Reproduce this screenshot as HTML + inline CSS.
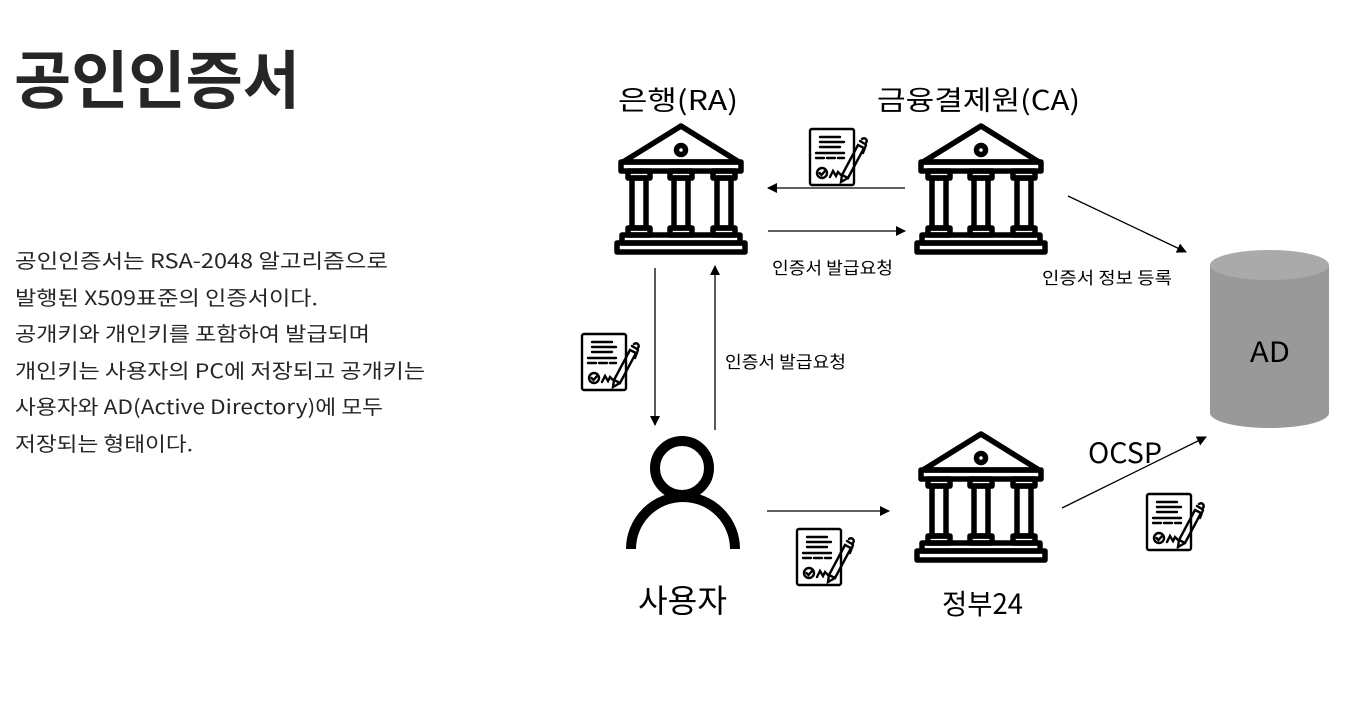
<!DOCTYPE html>
<html><head><meta charset="utf-8"><style>
html,body{margin:0;padding:0;background:#fff;}
svg{display:block;font-family:"Noto Sans CJK KR","Liberation Sans",sans-serif;}
</style></head><body>
<svg width="1372" height="714" viewBox="0 0 1372 714" xmlns="http://www.w3.org/2000/svg">
<defs>
<symbol id="bank" viewBox="0 0 131 131" overflow="visible">
 <g fill="none" stroke="#000" stroke-width="5.5" stroke-linejoin="round">
  <path d="M66 2 L8 38 L124 38 Z"/>
  <circle cx="66" cy="26" r="4.5"/>
  <rect x="6" y="38" width="120" height="9"/>
  <rect x="13" y="47" width="22" height="7"/>
  <rect x="55" y="47" width="22" height="7"/>
  <rect x="98" y="47" width="22" height="7"/>
  <rect x="17" y="54" width="14" height="50"/>
  <rect x="59" y="54" width="14" height="50"/>
  <rect x="102" y="54" width="14" height="50"/>
  <rect x="13" y="104" width="22" height="7"/>
  <rect x="55" y="104" width="22" height="7"/>
  <rect x="98" y="104" width="22" height="7"/>
  <rect x="7" y="111" width="118" height="8"/>
  <rect x="2" y="119" width="128" height="9"/>
 </g>
</symbol>
<symbol id="doc" viewBox="0 0 62 60" overflow="visible">
 <g fill="none" stroke="#000" stroke-width="2.4" stroke-linecap="round">
  <rect x="2" y="2" width="44" height="56" rx="2"/>
  <path d="M12 10h20M12 15h24M12 20h20M8 26h28M8 31h8M19 31h8M30 31h6"/>
  <circle cx="14" cy="46" r="5"/>
  <path d="M11.5 46l2 2 3.5-4"/>
  <path d="M22 50l3-6 3 5 2-4 3 3"/>
  <path d="M34 48 L50 18 L56 21 L40 51 Z"/>
  <path d="M34 48 L33 55 L40 51"/>
  <path d="M52 14 l5 3 M54 12 c3 -2 6 1 4 4 M58 18 l-3 8"/>
 </g>
</symbol>
<marker id="ah" markerWidth="10" markerHeight="10" refX="9" refY="5" orient="auto" markerUnits="userSpaceOnUse">
 <path d="M0 0 L10 5 L0 10 Z" fill="#000"/>
</marker>
</defs>

<text x="14" y="103" font-size="63" font-weight="bold" fill="#262626" textLength="286" lengthAdjust="spacingAndGlyphs">공인인증서</text>
<g font-size="20" fill="#262626">
<text x="15" y="268" textLength="373" lengthAdjust="spacingAndGlyphs">공인인증서는 RSA-2048 알고리즘으로</text>
<text x="15" y="305" textLength="303" lengthAdjust="spacingAndGlyphs">발행된 X509표준의 인증서이다.</text>
<text x="15" y="341" textLength="355" lengthAdjust="spacingAndGlyphs">공개키와 개인키를 포함하여 발급되며</text>
<text x="15" y="378" textLength="410" lengthAdjust="spacingAndGlyphs">개인키는 사용자의 PC에 저장되고 공개키는</text>
<text x="15" y="414" textLength="368" lengthAdjust="spacingAndGlyphs">사용자와 AD(Active Directory)에 모두</text>
<text x="15" y="451" textLength="178" lengthAdjust="spacingAndGlyphs">저장되는 형태이다.</text>
</g>

<g font-size="27" fill="#000">
<text x="618" y="110" textLength="120" lengthAdjust="spacingAndGlyphs">은행(RA)</text>
<text x="877" y="110" textLength="203" lengthAdjust="spacingAndGlyphs">금융결제원(CA)</text>
</g>
<text x="638" y="612" font-size="32" textLength="89" lengthAdjust="spacingAndGlyphs">사용자</text>
<text x="942" y="614" font-size="28" textLength="81" lengthAdjust="spacingAndGlyphs">정부24</text>

<use href="#bank" x="615" y="124" width="131" height="131"/>
<use href="#bank" x="915" y="124" width="131" height="131"/>
<use href="#bank" x="915" y="432" width="131" height="131"/>

<use href="#doc" x="808" y="127" width="62" height="60"/>
<use href="#doc" x="580" y="332" width="62" height="60"/>
<use href="#doc" x="795" y="527" width="62" height="60"/>
<use href="#doc" x="1145" y="492" width="62" height="60"/>

<g fill="none" stroke="#000" stroke-width="10">
 <circle cx="682" cy="468" r="27"/>
 <path d="M631 549 A52 52 0 0 1 735 549"/>
</g>

<path d="M1210 265 L1210 413 A59.5 15 0 0 0 1329 413 L1329 265 Z" fill="#999"/>
<ellipse cx="1269.5" cy="265" rx="59.5" ry="15" fill="#aaa"/>
<text x="1250" y="362" font-size="28" fill="#000" textLength="40" lengthAdjust="spacingAndGlyphs">AD</text>

<g stroke="#000" stroke-width="1.3" fill="none">
 <line x1="905" y1="188" x2="768" y2="188" marker-end="url(#ah)"/>
 <line x1="768" y1="231" x2="905" y2="231" marker-end="url(#ah)"/>
 <line x1="655" y1="268" x2="655" y2="425" marker-end="url(#ah)"/>
 <line x1="715" y1="430" x2="715" y2="266" marker-end="url(#ah)"/>
 <line x1="767" y1="511" x2="889" y2="511" marker-end="url(#ah)"/>
 <line x1="1068" y1="196" x2="1186" y2="252" marker-end="url(#ah)"/>
 <line x1="1062" y1="508" x2="1206" y2="437" marker-end="url(#ah)"/>
</g>

<g font-size="17" fill="#000">
<text x="772" y="274" textLength="121" lengthAdjust="spacingAndGlyphs">인증서 발급요청</text>
<text x="725" y="368" textLength="121" lengthAdjust="spacingAndGlyphs">인증서 발급요청</text>
<text x="1042" y="284" textLength="130" lengthAdjust="spacingAndGlyphs">인증서 정보 등록</text>
</g>
<text x="1088" y="463" font-size="28" fill="#000" textLength="74" lengthAdjust="spacingAndGlyphs">OCSP</text>
</svg>
</body></html>
